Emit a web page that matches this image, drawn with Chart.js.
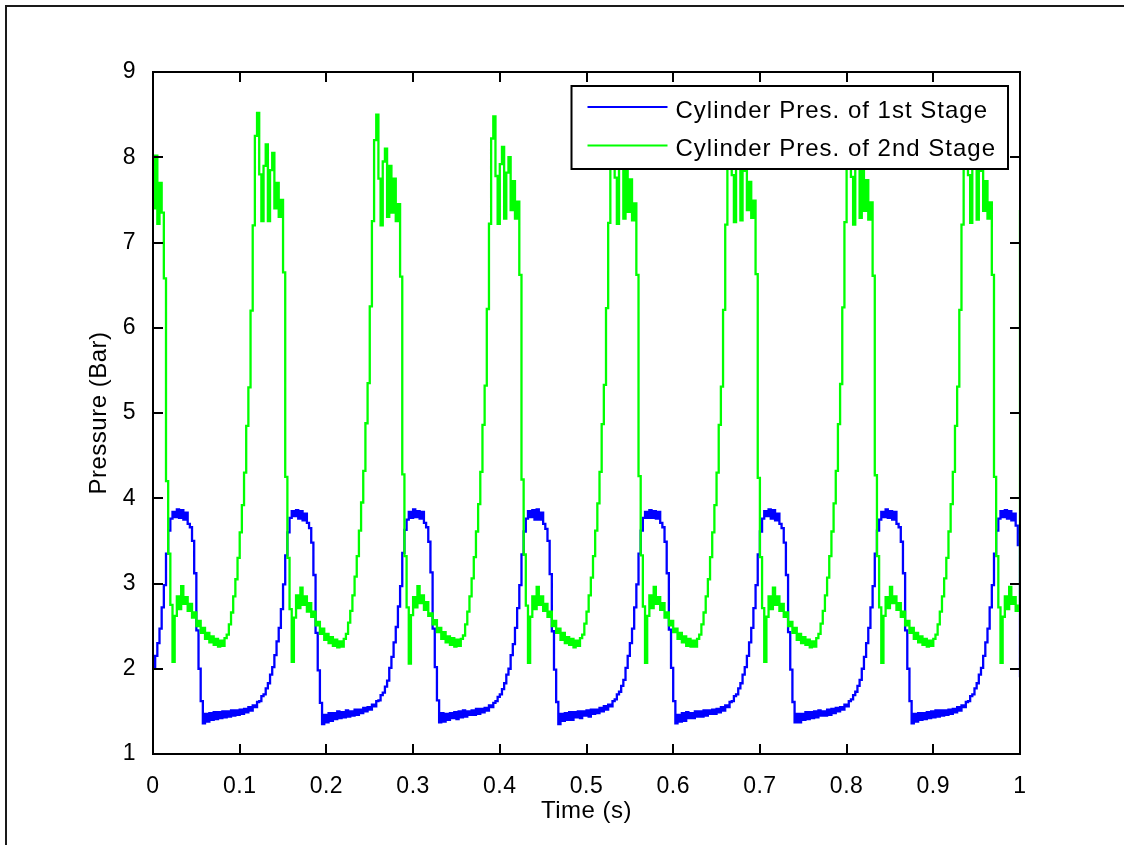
<!DOCTYPE html>
<html lang="en">
<head>
<meta charset="UTF-8">
<title>Cylinder Pressure</title>
<script src="https://cdn.jsdelivr.net/npm/chart.js@4"></script>
<style>
  html, body { margin: 0; padding: 0; background: #fff; }
  #chart { display: block; }
</style>
</head>
<body>
<canvas id="chart" width="1124" height="845"></canvas>
<script>
// sampled every 2.5 ms, one row block per compressor cycle
const sampleStep = 0.0025;

const pressure1st = [
  // cycle 1
  2.00, 2.15, 2.30, 2.47, 2.72, 2.98, 3.35, 3.62, 3.76, 3.84,
  3.78, 3.87, 3.77, 3.86, 3.75, 3.83, 3.70, 3.66, 3.50, 3.12,
  2.45, 2.00, 1.62, 1.36, 1.47, 1.38, 1.48, 1.40, 1.49, 1.41,
  1.49, 1.42, 1.50, 1.43, 1.50, 1.44, 1.51, 1.45, 1.51, 1.46,
  1.52, 1.47, 1.53, 1.49, 1.55, 1.51, 1.57, 1.55, 1.61, 1.62,
  1.68, 1.70, 1.77, 1.83, 1.93,
  // cycle 2
  2.02, 2.16, 2.32, 2.48, 2.70, 2.99, 3.33, 3.60, 3.77, 3.85,
  3.79, 3.86, 3.76, 3.85, 3.74, 3.82, 3.71, 3.65, 3.48, 3.10,
  2.42, 1.98, 1.60, 1.35, 1.46, 1.37, 1.48, 1.39, 1.48, 1.41,
  1.50, 1.42, 1.49, 1.43, 1.51, 1.44, 1.50, 1.45, 1.52, 1.46,
  1.52, 1.48, 1.54, 1.50, 1.55, 1.52, 1.58, 1.56, 1.62, 1.63,
  1.69, 1.72, 1.79, 1.86,
  // cycle 3
  2.01, 2.14, 2.31, 2.49, 2.73, 2.97, 3.36, 3.63, 3.75, 3.84,
  3.77, 3.87, 3.78, 3.85, 3.76, 3.84, 3.71, 3.66, 3.49, 3.13,
  2.47, 2.02, 1.63, 1.37, 1.48, 1.38, 1.47, 1.40, 1.48, 1.42,
  1.49, 1.41, 1.50, 1.43, 1.51, 1.44, 1.50, 1.46, 1.51, 1.46,
  1.53, 1.47, 1.53, 1.49, 1.54, 1.51, 1.57, 1.55, 1.60, 1.62,
  1.67, 1.70, 1.76, 1.83, 1.93,
  // cycle 4
  2.00, 2.16, 2.29, 2.48, 2.71, 2.98, 3.34, 3.61, 3.76, 3.85,
  3.78, 3.86, 3.75, 3.87, 3.75, 3.83, 3.70, 3.64, 3.50, 3.11,
  2.44, 1.99, 1.61, 1.35, 1.47, 1.39, 1.48, 1.40, 1.49, 1.40,
  1.49, 1.43, 1.50, 1.42, 1.50, 1.45, 1.51, 1.44, 1.52, 1.47,
  1.52, 1.48, 1.54, 1.50, 1.56, 1.52, 1.58, 1.56, 1.62, 1.64,
  1.70, 1.73, 1.80, 1.87,
  // cycle 5
  2.01, 2.15, 2.30, 2.47, 2.72, 2.99, 3.35, 3.62, 3.77, 3.84,
  3.77, 3.86, 3.77, 3.85, 3.76, 3.84, 3.71, 3.66, 3.49, 3.12,
  2.46, 2.01, 1.62, 1.36, 1.46, 1.38, 1.48, 1.39, 1.49, 1.42,
  1.48, 1.42, 1.50, 1.44, 1.50, 1.44, 1.51, 1.45, 1.51, 1.47,
  1.52, 1.47, 1.53, 1.49, 1.55, 1.51, 1.57, 1.55, 1.61, 1.62,
  1.68, 1.70, 1.77, 1.83, 1.93,
  // cycle 6
  2.02, 2.15, 2.31, 2.48, 2.71, 2.98, 3.34, 3.61, 3.76, 3.85,
  3.79, 3.87, 3.76, 3.86, 3.74, 3.82, 3.70, 3.65, 3.48, 3.10,
  2.43, 1.99, 1.61, 1.37, 1.47, 1.37, 1.47, 1.40, 1.49, 1.41,
  1.49, 1.42, 1.50, 1.43, 1.51, 1.45, 1.50, 1.45, 1.52, 1.46,
  1.53, 1.48, 1.54, 1.50, 1.55, 1.52, 1.58, 1.56, 1.62, 1.64,
  1.69, 1.73, 1.80, 1.87,
  // cycle 7
  2.00, 2.14, 2.30, 2.48, 2.72, 2.97, 3.35, 3.62, 3.75, 3.84,
  3.78, 3.87, 3.77, 3.85, 3.75, 3.84, 3.70, 3.66, 3.49, 3.12,
  2.45, 2.00, 1.62, 1.36, 1.47, 1.38, 1.48, 1.40, 1.48, 1.41,
  1.49, 1.42, 1.50, 1.43, 1.51, 1.44, 1.51, 1.45, 1.51, 1.46,
  1.52, 1.47, 1.53, 1.49, 1.55, 1.51, 1.57, 1.55, 1.61, 1.62,
  1.68, 1.70, 1.77, 1.83, 1.93,
  // cycle 8 (cut at 1 s)
  2.01, 2.15, 2.31, 2.47, 2.72, 2.98, 3.35, 3.62, 3.76, 3.85,
  3.78, 3.86, 3.76, 3.85, 3.74, 3.82, 3.68, 3.45, 1.90
];

const pressure2nd = [
  // cycle 1
  7.40, 8.02, 7.22, 7.70, 7.35, 6.58, 4.20, 3.35, 2.75, 2.08,
  2.62, 2.85, 2.70, 2.97, 2.76, 2.84, 2.68, 2.76, 2.60, 2.66,
  2.50, 2.56, 2.42, 2.48, 2.35, 2.42, 2.31, 2.38, 2.28, 2.35,
  2.26, 2.33, 2.27, 2.36, 2.40, 2.52, 2.66, 2.85, 3.05, 3.30,
  3.60, 3.92, 4.30, 4.85, 5.30, 6.20, 7.20, 8.25, 8.52, 7.80,
  7.25, 7.90, 8.15, 7.25, 7.85,
  // cycle 2
  8.05, 7.40, 7.70, 7.30, 7.50, 6.65, 4.25, 3.30, 2.70, 2.08,
  2.60, 2.86, 2.71, 2.95, 2.75, 2.85, 2.67, 2.77, 2.61, 2.67,
  2.51, 2.55, 2.41, 2.47, 2.34, 2.41, 2.30, 2.37, 2.27, 2.34,
  2.25, 2.32, 2.26, 2.35, 2.41, 2.54, 2.68, 2.86, 3.08, 3.32,
  3.62, 3.95, 4.32, 4.88, 5.35, 6.25, 7.25, 8.20, 8.50, 7.75,
  7.20, 7.95, 8.10, 7.30,
  // cycle 3
  7.90, 7.35, 7.75, 7.25, 7.45, 6.60, 4.28, 3.32, 2.72, 2.06,
  2.63, 2.84, 2.72, 2.97, 2.77, 2.86, 2.69, 2.78, 2.62, 2.65,
  2.52, 2.57, 2.43, 2.48, 2.35, 2.43, 2.31, 2.38, 2.28, 2.36,
  2.26, 2.34, 2.27, 2.35, 2.39, 2.52, 2.67, 2.85, 3.06, 3.31,
  3.61, 3.93, 4.31, 4.86, 5.32, 6.22, 7.22, 8.22, 8.48, 7.78,
  7.22, 7.92, 8.12, 7.28, 7.82,
  // cycle 4
  8.00, 7.38, 7.72, 7.28, 7.48, 6.62, 4.22, 3.34, 2.74, 2.07,
  2.61, 2.85, 2.70, 2.96, 2.75, 2.85, 2.68, 2.76, 2.61, 2.67,
  2.50, 2.56, 2.42, 2.47, 2.34, 2.42, 2.30, 2.37, 2.28, 2.35,
  2.25, 2.33, 2.27, 2.36, 2.40, 2.53, 2.67, 2.86, 3.07, 3.32,
  3.62, 3.94, 4.31, 4.87, 5.33, 6.23, 7.23, 8.20, 8.45, 7.76,
  7.22, 7.90, 8.10, 7.28,
  // cycle 5
  7.92, 7.36, 7.74, 7.26, 7.46, 6.62, 4.26, 3.33, 2.73, 2.07,
  2.62, 2.86, 2.71, 2.96, 2.76, 2.84, 2.69, 2.77, 2.60, 2.66,
  2.51, 2.56, 2.43, 2.47, 2.35, 2.42, 2.31, 2.38, 2.27, 2.35,
  2.26, 2.33, 2.26, 2.35, 2.40, 2.52, 2.66, 2.85, 3.05, 3.31,
  3.60, 3.92, 4.30, 4.86, 5.31, 6.21, 7.21, 8.22, 8.47, 7.79,
  7.24, 7.91, 8.13, 7.26, 7.84,
  // cycle 6
  8.02, 7.38, 7.71, 7.29, 7.49, 6.63, 4.24, 3.31, 2.71, 2.08,
  2.61, 2.85, 2.70, 2.95, 2.75, 2.85, 2.68, 2.76, 2.61, 2.66,
  2.50, 2.55, 2.42, 2.48, 2.34, 2.41, 2.30, 2.37, 2.28, 2.34,
  2.25, 2.32, 2.26, 2.36, 2.41, 2.53, 2.68, 2.86, 3.07, 3.32,
  3.61, 3.94, 4.32, 4.87, 5.34, 6.24, 7.24, 8.21, 8.46, 7.77,
  7.21, 7.93, 8.11, 7.29,
  // cycle 7
  7.91, 7.37, 7.73, 7.27, 7.47, 6.61, 4.27, 3.32, 2.72, 2.07,
  2.62, 2.84, 2.71, 2.96, 2.77, 2.85, 2.69, 2.77, 2.61, 2.67,
  2.51, 2.56, 2.42, 2.48, 2.35, 2.42, 2.31, 2.38, 2.28, 2.35,
  2.26, 2.33, 2.27, 2.35, 2.40, 2.52, 2.67, 2.85, 3.06, 3.30,
  3.61, 3.93, 4.31, 4.85, 5.31, 6.21, 7.21, 8.23, 8.49, 7.79,
  7.23, 7.91, 8.14, 7.27, 7.84,
  // cycle 8 (cut at 1 s)
  8.01, 7.37, 7.72, 7.28, 7.47, 6.62, 4.25, 3.32, 2.72, 2.07,
  2.61, 2.85, 2.70, 2.96, 2.76, 2.84, 2.68, 2.74, 7.38
];

const time = pressure1st.map((_, i) => i * sampleStep);

const xTickValues = [0, 0.1, 0.2, 0.3, 0.4, 0.5, 0.6, 0.7, 0.8, 0.9, 1];
const xTickLabels = ['0', '0.1', '0.2', '0.3', '0.4', '0.5', '0.6', '0.7', '0.8', '0.9', '1'];
const yTickValues = [1, 2, 3, 4, 5, 6, 7, 8, 9];
const yTickLabels = ['1', '2', '3', '4', '5', '6', '7', '8', '9'];

const FONT = "'Liberation Sans', Arial, sans-serif";

// matlab-ish axes: full box, inward ticks, legend box over the lines
const axesBox = {
  id: 'axesBox',
  beforeDraw(chart) {
    const ctx = chart.ctx;
    ctx.save();
    ctx.fillStyle = '#fff';
    ctx.fillRect(0, 0, chart.width, chart.height);
    ctx.fillStyle = '#1a1a1a';
    ctx.fillRect(5, 5, chart.width - 5, 2);
    ctx.fillRect(5, 5, 2, chart.height - 5);
    ctx.restore();
    ctx.letterSpacing = '0.5px';
  },
  afterDatasetsDraw(chart) {
    const {ctx, chartArea: a, scales: {x, y}} = chart;
    const tickLen = 10;
    ctx.save();
    ctx.strokeStyle = '#000';
    ctx.lineWidth = 2;
    ctx.strokeRect(a.left, a.top, a.right - a.left, a.bottom - a.top);
    ctx.beginPath();
    x.ticks.forEach(t => {
      const px = Math.round(x.getPixelForValue(t.value));
      ctx.moveTo(px, a.bottom); ctx.lineTo(px, a.bottom - tickLen);
      ctx.moveTo(px, a.top); ctx.lineTo(px, a.top + tickLen);
    });
    y.ticks.forEach(t => {
      const py = Math.round(y.getPixelForValue(t.value));
      ctx.moveTo(a.left, py); ctx.lineTo(a.left + tickLen, py);
      ctx.moveTo(a.right, py); ctx.lineTo(a.right - tickLen, py);
    });
    ctx.stroke();

    // legend
    ctx.font = `24px ${FONT}`;
    ctx.letterSpacing = '1px';
    const sets = chart.data.datasets;
    const textW = Math.max(...sets.map(d => ctx.measureText(d.label).width));
    const right = a.right - 12, top = a.top + 14;
    const left = right - (104 + textW + 12);
    const bottom = top + 83;
    ctx.fillStyle = '#fff';
    ctx.fillRect(left, top, right - left, bottom - top);
    ctx.strokeStyle = '#000';
    ctx.lineWidth = 2;
    ctx.strokeRect(left, top, right - left, bottom - top);
    sets.forEach((d, i) => {
      const rowY = top + 21 + i * 38.5;
      ctx.strokeStyle = d.borderColor;
      ctx.lineWidth = 2;
      ctx.beginPath();
      ctx.moveTo(left + 16, rowY);
      ctx.lineTo(left + 96, rowY);
      ctx.stroke();
      ctx.fillStyle = '#000';
      ctx.textAlign = 'left';
      ctx.textBaseline = 'middle';
      ctx.fillText(d.label, left + 104, rowY + 4);
    });
    ctx.restore();
  }
};

new Chart(document.getElementById('chart'), {
  type: 'line',
  data: {
    labels: time,
    datasets: [
      {
        label: 'Cylinder Pres. of 1st Stage',
        data: pressure1st,
        borderColor: '#0000ff',
        borderWidth: 2.3,
        pointRadius: 0,
        stepped: 'before',
        order: 1
      },
      {
        label: 'Cylinder Pres. of 2nd Stage',
        data: pressure2nd,
        borderColor: '#00ff00',
        borderWidth: 2.3,
        pointRadius: 0,
        stepped: 'before',
        order: 0
      }
    ]
  },
  options: {
    responsive: false,
    animation: false,
    devicePixelRatio: 1,
    layout: { padding: { left: 0, right: 104, top: 72, bottom: 0 } },
    scales: {
      x: {
        type: 'linear',
        min: 0,
        max: 1,
        afterBuildTicks: s => { s.ticks = xTickValues.map(v => ({ value: v })); },
        afterFit: s => { s.height = 91; },
        grid: { display: false },
        border: { display: false },
        ticks: {
          autoSkip: false,
          maxRotation: 0,
          padding: 11,
          color: '#000',
          font: { family: FONT, size: 23 },
          callback: (v, i) => xTickLabels[i]
        },
        title: {
          display: true,
          text: 'Time (s)',
          color: '#000',
          font: { family: FONT, size: 24 },
          padding: { top: 0, bottom: 19 }
        }
      },
      y: {
        type: 'linear',
        min: 1,
        max: 9,
        afterBuildTicks: s => { s.ticks = yTickValues.map(v => ({ value: v })); },
        afterFit: s => { s.width = 153; },
        grid: { display: false },
        border: { display: false },
        ticks: {
          autoSkip: false,
          padding: 9,
          color: '#000',
          font: { family: FONT, size: 23 },
          callback: (v, i) => yTickLabels[i]
        },
        title: {
          display: true,
          text: 'Pressure (Bar)',
          color: '#000',
          font: { family: FONT, size: 24 },
          padding: { top: 85, bottom: 0 }
        }
      }
    },
    plugins: {
      legend: { display: false },
      tooltip: { enabled: false }
    }
  },
  plugins: [axesBox]
});
</script>
</body>
</html>
